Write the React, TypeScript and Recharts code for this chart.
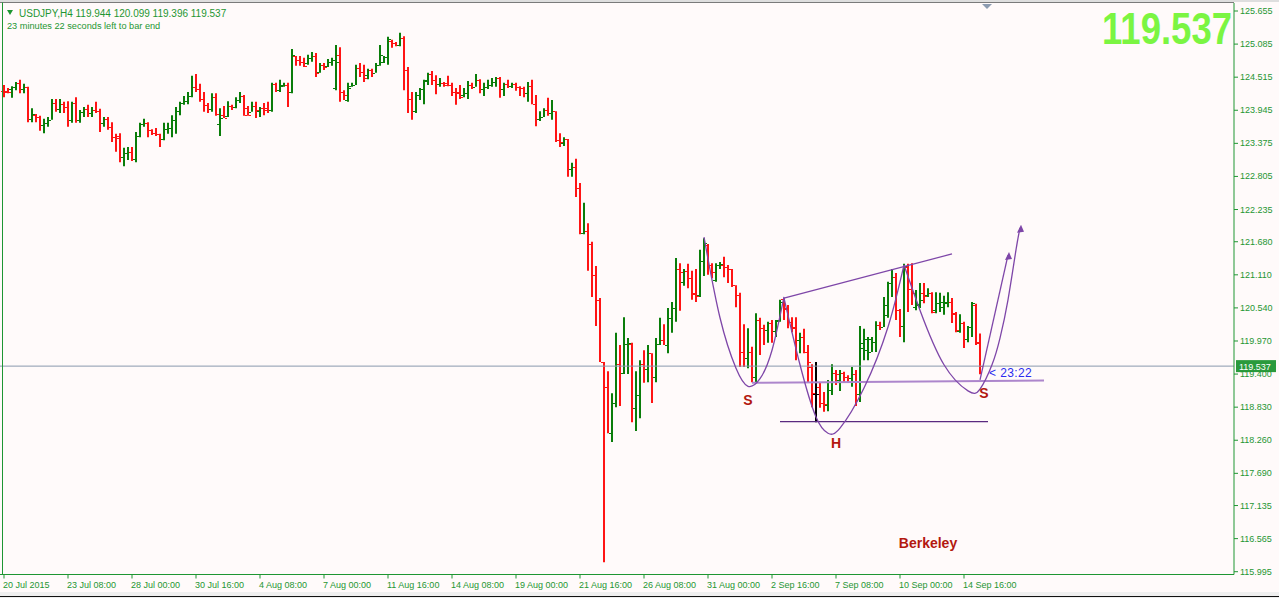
import {
  ComposedChart,
  Bar,
  Line,
  XAxis,
  YAxis,
  ReferenceLine,
  ReferenceDot,
} from "recharts";

const FONT = "'Liberation Sans', Arial, sans-serif";
const BG = "#fffafa";
const AXIS = "#1e9632";
const UP = "#0a7d0a";
const DOWN = "#ff1414";
const DOJI = "#000000";
const PURPLE = "#7e46a8";
const LABEL_RED = "#b3180f";

// H4 bars, 20 Jul 2015 -> 14 Sep 2015 (one per slot, slot 1 = first visible bar)
const opens = [
  124.28, 124.28, 124.31, 124.35, 124.41, 124.31, 124.35, 123.8, 123.86, 123.83,
  123.69, 123.73, 123.78, 124.07, 123.97, 124.05, 124.0, 123.78, 124.07, 123.78,
  123.92, 123.97, 123.9, 123.95, 123.93, 123.73, 123.8, 123.66, 123.48, 123.5,
  123.14, 123.21, 123.23, 123.11, 123.5, 123.71, 123.73, 123.61, 123.55, 123.54,
  123.45, 123.62, 123.64, 123.78, 123.93, 124.07, 124.1, 124.19, 124.35, 124.31,
  124.14, 124.04, 123.97, 124.17, 123.71, 123.86, 123.85, 124.02, 124.0, 124.12,
  124.19, 123.98, 123.92, 124.02, 123.93, 123.98, 123.98, 123.95, 124.4, 124.29,
  124.36, 124.38, 124.26, 124.88, 124.81, 124.78, 124.76, 124.85, 124.88, 124.61,
  124.73, 124.71, 124.78, 124.33, 124.9, 124.26, 124.12, 124.36, 124.38, 124.67,
  124.61, 124.55, 124.64, 124.59, 124.73, 124.78, 124.86, 125.14, 125.1, 125.07,
  125.19, 124.64, 124.14, 123.93, 124.21, 124.31, 124.47, 124.57, 124.47, 124.4,
  124.42, 124.42, 124.38, 124.26, 124.26, 124.21, 124.24, 124.38, 124.35, 124.47,
  124.31, 124.35, 124.38, 124.43, 124.5, 124.31, 124.4, 124.36, 124.4, 124.35,
  124.33, 124.24, 124.36, 124.05, 123.8, 123.83, 123.95, 123.9, 123.93, 123.43,
  123.38, 123.45, 122.93, 122.97, 122.61, 121.83, 121.86, 121.64, 121.11, 120.68,
  119.61, 119.18, 118.38, 118.9, 119.57, 119.42, 119.92, 119.92, 118.82, 119.04,
  119.57, 119.49, 119.76, 119.35, 119.92, 119.99, 119.9, 120.37, 120.54, 121.21,
  120.99, 121.18, 121.06, 120.8, 120.76, 121.35, 121.62, 121.28, 121.02, 121.28,
  121.28, 121.24, 121.21, 120.93, 120.76, 119.78, 119.68, 119.78, 119.35, 120.33,
  120.19, 120.16, 120.28, 120.14, 120.33, 120.7, 120.54, 120.3, 120.21, 119.99,
  120.04, 119.78, 119.52, 119.06, 119.18, 118.9, 118.87, 119.13, 119.42, 119.3,
  119.42, 119.35, 119.33, 119.4, 119.06, 119.85, 119.81, 119.78, 119.95, 120.25,
  120.21, 120.59, 120.97, 121.07, 120.5, 120.23, 121.25, 120.87, 120.55, 120.59,
  120.8, 120.76, 120.8, 120.5, 120.62, 120.55, 120.62, 120.64, 120.43, 120.14,
  120.28, 120.0, 120.21, 120.59, 119.944,
];

const highs = [
  124.38, 124.33, 124.36, 124.43, 124.47, 124.4, 124.35, 123.98, 123.88, 123.85,
  123.8, 123.83, 124.14, 124.14, 124.14, 124.09, 124.1, 124.09, 124.17, 123.95,
  124.0, 124.04, 124.0, 124.09, 123.97, 123.83, 123.83, 123.74, 123.54, 123.55,
  123.3, 123.31, 123.31, 123.57, 123.73, 123.8, 123.74, 123.62, 123.64, 123.54,
  123.73, 123.73, 123.86, 124.0, 124.09, 124.19, 124.26, 124.54, 124.57, 124.4,
  124.26, 124.07, 124.24, 124.24, 123.98, 124.02, 124.1, 124.04, 124.17, 124.26,
  124.21, 124.02, 124.09, 124.09, 124.0, 124.07, 124.09, 124.42, 124.42, 124.47,
  124.42, 124.42, 125.0, 124.88, 124.88, 124.85, 124.9, 124.95, 124.93, 124.76,
  124.76, 124.83, 124.85, 125.07, 125.03, 124.29, 124.42, 124.42, 124.73, 124.76,
  124.73, 124.66, 124.66, 124.76, 125.07, 124.88, 125.21, 125.16, 125.12, 125.28,
  125.22, 124.69, 124.26, 124.26, 124.33, 124.47, 124.59, 124.62, 124.55, 124.5,
  124.43, 124.54, 124.42, 124.33, 124.38, 124.33, 124.45, 124.42, 124.57, 124.48,
  124.42, 124.47, 124.5, 124.52, 124.52, 124.42, 124.47, 124.42, 124.42, 124.36,
  124.35, 124.43, 124.47, 124.21, 123.93, 123.98, 124.16, 124.12, 123.93, 123.55,
  123.48, 123.45, 123.04, 123.11, 122.69, 122.35, 122.0, 121.68, 121.26, 120.71,
  119.61, 119.45, 119.07, 120.11, 119.9, 120.38, 120.02, 119.94, 119.45, 119.64,
  119.81, 119.9, 119.76, 120.02, 120.37, 120.26, 120.54, 120.64, 121.4, 121.31,
  121.21, 121.3, 121.18, 121.21, 121.54, 121.74, 121.64, 121.31, 121.31, 121.33,
  121.42, 121.28, 121.21, 120.93, 120.8, 120.26, 120.19, 119.87, 120.45, 120.37,
  120.25, 120.3, 120.33, 120.33, 120.68, 120.71, 120.59, 120.38, 120.38, 120.11,
  120.18, 119.9, 119.57, 119.61, 119.26, 119.09, 119.3, 119.57, 119.47, 119.47,
  119.44, 119.38, 119.52, 119.47, 120.23, 120.18, 120.04, 120.04, 120.31, 120.3,
  120.73, 120.99, 121.21, 121.14, 120.52, 121.3, 121.3, 121.31, 120.85, 120.97,
  120.97, 120.88, 120.81, 120.81, 120.8, 120.75, 120.81, 120.71, 120.47, 120.43,
  120.3, 120.23, 120.64, 120.61, 120.099,
];

const lows = [
  124.17, 124.24, 124.16, 124.29, 124.24, 124.24, 123.74, 123.74, 123.74, 123.59,
  123.55, 123.66, 123.78, 123.92, 123.9, 123.9, 123.66, 123.73, 123.73, 123.73,
  123.83, 123.83, 123.83, 123.9, 123.57, 123.66, 123.61, 123.4, 123.23, 123.05,
  122.98, 123.09, 123.07, 123.05, 123.48, 123.66, 123.48, 123.52, 123.5, 123.31,
  123.43, 123.54, 123.48, 123.54, 123.86, 124.04, 124.05, 124.17, 124.26, 124.09,
  123.92, 123.9, 123.92, 123.85, 123.5, 123.81, 123.83, 123.95, 123.98, 124.07,
  123.85, 123.85, 123.92, 123.81, 123.83, 123.86, 123.9, 123.92, 124.26, 124.26,
  124.35, 124.0, 124.24, 124.71, 124.71, 124.69, 124.73, 124.78, 124.52, 124.59,
  124.64, 124.69, 124.71, 124.29, 124.09, 124.12, 124.09, 124.35, 124.38, 124.52,
  124.43, 124.48, 124.52, 124.59, 124.71, 124.76, 124.73, 125.02, 125.05, 125.05,
  124.29, 123.9, 123.78, 123.9, 124.12, 124.05, 124.38, 124.38, 124.22, 124.35,
  124.35, 124.36, 124.19, 124.04, 124.14, 124.17, 124.14, 124.31, 124.35, 124.24,
  124.19, 124.31, 124.35, 124.35, 124.16, 124.19, 124.33, 124.33, 124.28, 124.19,
  124.17, 124.09, 124.05, 123.67, 123.76, 123.83, 123.85, 123.78, 123.4, 123.31,
  123.33, 122.8, 122.8, 122.45, 121.81, 121.81, 121.18, 120.73, 120.23, 119.61,
  116.16, 118.38, 118.23, 118.83, 118.85, 119.4, 119.4, 118.57, 118.42, 118.64,
  119.25, 119.26, 118.9, 119.26, 119.9, 119.9, 119.76, 120.11, 120.3, 120.49,
  120.92, 120.88, 120.68, 120.64, 120.73, 121.09, 121.11, 121.05, 120.99, 121.21,
  121.07, 120.97, 120.9, 120.55, 119.52, 119.52, 119.5, 119.26, 119.26, 119.73,
  119.9, 119.94, 119.94, 120.04, 120.3, 120.33, 120.19, 120.12, 119.64, 119.76,
  119.76, 119.25, 118.83, 118.57, 118.82, 118.75, 118.76, 119.04, 119.21, 119.11,
  119.26, 119.26, 119.18, 118.85, 118.92, 119.64, 119.64, 119.78, 119.78, 120.16,
  120.21, 120.37, 120.73, 120.33, 120.04, 119.95, 120.47, 120.59, 120.5, 120.54,
  120.62, 120.73, 120.45, 120.45, 120.47, 120.42, 120.55, 120.28, 120.12, 120.11,
  119.85, 119.95, 120.04, 119.9, 119.396,
];

const closes = [
  124.26, 124.26, 124.35, 124.41, 124.31, 124.35, 123.8, 123.88, 123.83, 123.69,
  123.73, 123.78, 124.07, 123.97, 124.05, 124.0, 123.78, 124.07, 123.78, 123.92,
  123.97, 123.9, 123.95, 123.93, 123.73, 123.8, 123.66, 123.48, 123.47, 123.14,
  123.21, 123.23, 123.11, 123.5, 123.71, 123.73, 123.61, 123.55, 123.54, 123.45,
  123.62, 123.64, 123.78, 123.93, 124.07, 124.1, 124.19, 124.35, 124.31, 124.14,
  124.04, 123.97, 124.17, 123.88, 123.81, 123.81, 124.02, 124.0, 124.12, 124.19,
  123.86, 123.86, 124.02, 123.95, 123.98, 123.95, 123.95, 124.4, 124.29, 124.38,
  124.38, 124.26, 124.9, 124.81, 124.78, 124.71, 124.85, 124.88, 124.59, 124.73,
  124.69, 124.78, 124.81, 124.78, 124.26, 124.21, 124.33, 124.38, 124.67, 124.61,
  124.5, 124.64, 124.59, 124.73, 124.9, 124.86, 125.17, 125.1, 125.07, 125.19,
  124.64, 124.14, 123.93, 124.21, 124.31, 124.45, 124.57, 124.47, 124.4, 124.42,
  124.38, 124.38, 124.26, 124.24, 124.17, 124.24, 124.38, 124.35, 124.47, 124.31,
  124.35, 124.38, 124.43, 124.5, 124.31, 124.4, 124.36, 124.4, 124.35, 124.33,
  124.24, 124.36, 124.05, 123.8, 123.83, 123.95, 123.9, 123.93, 123.43, 123.4,
  123.45, 122.93, 122.97, 122.61, 121.83, 121.86, 121.64, 121.11, 120.68, 119.61,
  119.18, 118.38, 118.9, 119.57, 119.42, 119.92, 119.94, 118.82, 119.04, 119.57,
  119.49, 119.76, 119.35, 119.92, 119.99, 119.9, 120.37, 120.54, 121.21, 121.16,
  121.18, 121.06, 120.78, 120.75, 121.35, 121.66, 121.28, 121.16, 121.28, 121.3,
  121.24, 121.21, 120.93, 120.76, 119.78, 119.68, 119.78, 119.35, 120.33, 120.19,
  120.16, 120.28, 120.14, 120.31, 120.64, 120.52, 120.3, 120.19, 119.99, 120.04,
  119.78, 119.61, 119.07, 119.06, 118.9, 118.88, 119.13, 119.42, 119.4, 119.42,
  119.35, 119.33, 119.4, 119.06, 119.93, 120.0, 120.0, 119.95, 120.25, 120.21,
  120.42, 120.97, 121.07, 120.5, 120.23, 121.26, 120.87, 120.8, 120.61, 120.68,
  120.75, 120.8, 120.47, 120.62, 120.64, 120.64, 120.64, 120.45, 120.16, 120.28,
  120.0, 120.21, 120.62, 119.93, 119.537,
];

const SLOTS = 309; // visible bar slots incl. right-side shift
const dateTicks = [1, 17, 33, 49, 65, 81, 97, 113, 129, 145, 161, 177, 193, 209, 225, 241];
const dateLabels = [
  "20 Jul 2015", "23 Jul 08:00", "28 Jul 00:00", "30 Jul 16:00", "4 Aug 08:00",
  "7 Aug 00:00", "11 Aug 16:00", "14 Aug 08:00", "19 Aug 00:00", "21 Aug 16:00",
  "26 Aug 08:00", "31 Aug 00:00", "2 Sep 16:00", "7 Sep 08:00", "10 Sep 00:00",
  "14 Sep 16:00",
];
const priceTicks = [
  125.655, 125.085, 124.515, 123.945, 123.375, 122.805, 122.235, 121.68, 121.11,
  120.54, 119.97, 119.4, 118.83, 118.26, 117.69, 117.135, 116.565, 115.995,
];

// hand drawn pattern objects: [slot, price]
const leftShoulder = [[176, 121.76], [180, 120.37], [184, 119.5], [187, 119.19], [190, 119.32], [193, 119.81], [196, 120.73]];
const headArc = [[196, 120.71], [200, 119.56], [204, 118.66], [207, 118.38], [210, 118.47], [216, 119.16], [222, 120.21], [226, 121.28]];
const rightShoulder = [[226, 121.28], [230, 120.5], [236, 119.56], [242, 119.11], [245, 119.14], [248, 119.56], [250, 120.02], [252, 120.68], [254, 121.54], [255, 121.92]];
const breakoutLine = [[245, 119.3], [252, 121.45]];
const topLine = [[196, 120.71], [238, 121.47]];
const neckLine = [[188, 119.25], [261, 119.29]];
const headLine = [[195, 118.58], [247, 118.58]];

const last = closes[closes.length - 1];

const rows: any[] = Array.from({ length: SLOTS }, (_, i) => {
  const r: any = { i };
  if (i >= 1 && i <= opens.length) {
    r.o = opens[i - 1];
    r.h = highs[i - 1];
    r.l = lows[i - 1];
    r.c = closes[i - 1];
  }
  return r;
});

const put = (key: string, pts: number[][]) =>
  pts.forEach(([s, p]) => {
    rows[s][key] = p;
  });
put("ls", leftShoulder);
put("hd", headArc);
put("rs", rightShoulder);
put("bo", breakoutLine);
put("tl", topLine);
put("nl", neckLine);
put("hl", headLine);

function OhlcBar(props: any) {
  const { x, y, width, height, payload } = props;
  if (payload == null || payload.o == null || x == null) return null;
  const top = Math.min(y, y + height);
  const h = Math.abs(height);
  const cx = Math.round(x + width / 2);
  const range = payload.h - payload.l;
  const at = (v: number) =>
    Math.round(range > 0 ? top + ((payload.h - v) / range) * h : top) + 0.5;
  const color = payload.c > payload.o ? UP : payload.c < payload.o ? DOWN : DOJI;
  return (
    <g>
      <line x1={cx} x2={cx} y1={top} y2={top + Math.max(h, 1)} stroke={color} strokeWidth={2} />
      <line x1={cx - 3} x2={cx - 1} y1={at(payload.o)} y2={at(payload.o)} stroke={color} strokeWidth={1} />
      <line x1={cx + 1} x2={cx + 3} y1={at(payload.c)} y2={at(payload.c)} stroke={color} strokeWidth={1} />
    </g>
  );
}

const DateTick = ({ x, y, payload }: any) => (
  <text x={x - 1} y={y + 7} fill={AXIS} fontSize={9} fontFamily={FONT}>
    {dateLabels[dateTicks.indexOf(payload.value)]}
  </text>
);

const PriceTick = ({ x, y, payload }: any) => (
  <text x={x} y={y + 3} fill={AXIS} fontSize={9} fontFamily={FONT}>
    {Number(payload.value).toFixed(3)}
  </text>
);

const PriceTag = ({ viewBox }: any) => {
  if (!viewBox) return null;
  const x = viewBox.x + viewBox.width + 2;
  const y = viewBox.y;
  return (
    <g>
      <rect x={x} y={y - 6} width={40} height={12} fill="#2a9a3c" />
      <text x={x + 3} y={y + 3.5} fill="#ffffff" fontSize={9} fontFamily={FONT}>
        {last.toFixed(3)}
      </text>
    </g>
  );
};

const Arrow = (key: string, endSlot: number) => (p: any) => {
  if (!p.payload || p.payload.i !== endSlot || p.payload[key] == null) return <g key={p.index} />;
  const { cx, cy } = p;
  return (
    <polygon
      key={p.index}
      points={`${cx + 1},${cy - 3} ${cx - 3},${cy + 5} ${cx + 4},${cy + 4}`}
      fill={PURPLE}
    />
  );
};

const mark = (value: string, size: number) => ({
  value,
  position: "center" as const,
  fill: LABEL_RED,
  fontSize: size,
  fontWeight: "bold",
  fontFamily: FONT,
});

export default function App() {
  return (
    <div style={{ position: "relative", width: 1279, height: 598, overflow: "hidden", background: BG }}>
      <style>{"body{margin:0;overflow:hidden}"}</style>
      <div style={{ position: "absolute", left: -2, top: 0 }}>
        <ComposedChart
          width={1281}
          height={598}
          data={rows}
          margin={{ top: 3, right: 0, bottom: 3.5, left: 0 }}
        >
          <XAxis
            dataKey="i"
            type="category"
            height={20}
            ticks={dateTicks}
            interval={0}
            tick={<DateTick />}
            tickSize={4}
            tickMargin={2}
            axisLine={{ stroke: AXIS }}
            tickLine={{ stroke: AXIS }}
          />
          <YAxis
            orientation="right"
            type="number"
            width={45}
            domain={[115.947, 125.793]}
            allowDataOverflow
            ticks={priceTicks}
            interval={0}
            tick={<PriceTick />}
            tickSize={4}
            tickMargin={2}
            axisLine={{ stroke: AXIS }}
            tickLine={{ stroke: AXIS }}
          />
          <ReferenceLine y={last} stroke="#8a99ae" strokeWidth={1} label={<PriceTag />} />
          <Bar
            dataKey={(d: any) => (d.o == null ? null : [d.l, d.h])}
            shape={<OhlcBar />}
            isAnimationActive={false}
          />
          <Line dataKey="nl" type="linear" stroke="#ad86cc" strokeWidth={2} dot={false} connectNulls isAnimationActive={false} />
          <Line dataKey="hl" type="linear" stroke="#5a2a80" strokeWidth={1.3} dot={false} connectNulls isAnimationActive={false} />
          <Line dataKey="tl" type="linear" stroke={PURPLE} strokeWidth={1.3} dot={false} connectNulls isAnimationActive={false} />
          <Line dataKey="ls" type="natural" stroke={PURPLE} strokeWidth={1.3} dot={false} connectNulls isAnimationActive={false} />
          <Line dataKey="hd" type="natural" stroke={PURPLE} strokeWidth={1.3} dot={false} connectNulls isAnimationActive={false} />
          <Line dataKey="rs" type="natural" stroke={PURPLE} strokeWidth={1.3} dot={Arrow("rs", 255)} connectNulls isAnimationActive={false} />
          <Line dataKey="bo" type="linear" stroke={PURPLE} strokeWidth={1.3} dot={Arrow("bo", 252)} connectNulls isAnimationActive={false} />
          <ReferenceDot x={187} y={118.95} r={1} fill="none" stroke="none" label={mark("S", 14)} />
          <ReferenceDot x={209} y={118.21} r={1} fill="none" stroke="none" label={mark("H", 14)} />
          <ReferenceDot x={246} y={119.07} r={1} fill="none" stroke="none" label={mark("S", 14)} />
          <ReferenceDot x={232} y={116.49} r={1} fill="none" stroke="none" label={mark("Berkeley", 14)} />
          <ReferenceDot
            x={247}
            y={119.42}
            r={1}
            fill="none"
            stroke="none"
            label={{ value: "< 23:22", position: "right", offset: 0, fill: "#2b2bf0", fontSize: 12, fontFamily: FONT, letterSpacing: 0.4 }}
          />
        </ComposedChart>
      </div>
      <svg
        width={1279}
        height={598}
        style={{ position: "absolute", left: 0, top: 0, pointerEvents: "none" }}
      >
        <rect x={0} y={0} width={1279} height={2} fill="#dedede" />
        <line x1={0} x2={1234} y1={2.5} y2={2.5} stroke="#7a7a7a" strokeWidth={1} />
        <line x1={2.5} x2={2.5} y1={2.5} y2={575} stroke={AXIS} strokeWidth={1} />
        <rect x={0} y={592} width={1279} height={6} fill="#efefef" />
        <line x1={0} x2={1279} y1={596.5} y2={596.5} stroke="#111" strokeWidth={1} />
        <polygon points="982,4 992,4 987,9" fill="#8c9bb0" />
        <polygon points="7,10 13,10 10,15" fill={AXIS} />
        <text x={19} y={17.3} fill={AXIS} fontSize={10} fontFamily={FONT}>
          {`USDJPY,H4  ${opens[opens.length - 1].toFixed(3)} ${highs[highs.length - 1].toFixed(3)} ${lows[lows.length - 1].toFixed(3)} ${last.toFixed(3)}`}
        </text>
        <text x={7} y={29.3} fill={AXIS} fontSize={9.2} fontFamily={FONT}>
          23 minutes 22 seconds left to bar end
        </text>
        <text
          transform="translate(1232,44) scale(0.83,1)"
          textAnchor="end"
          fill="#7bf542"
          fontSize={44}
          fontWeight="bold"
          fontFamily={FONT}
        >
          {last.toFixed(3)}
        </text>
      </svg>
    </div>
  );
}
